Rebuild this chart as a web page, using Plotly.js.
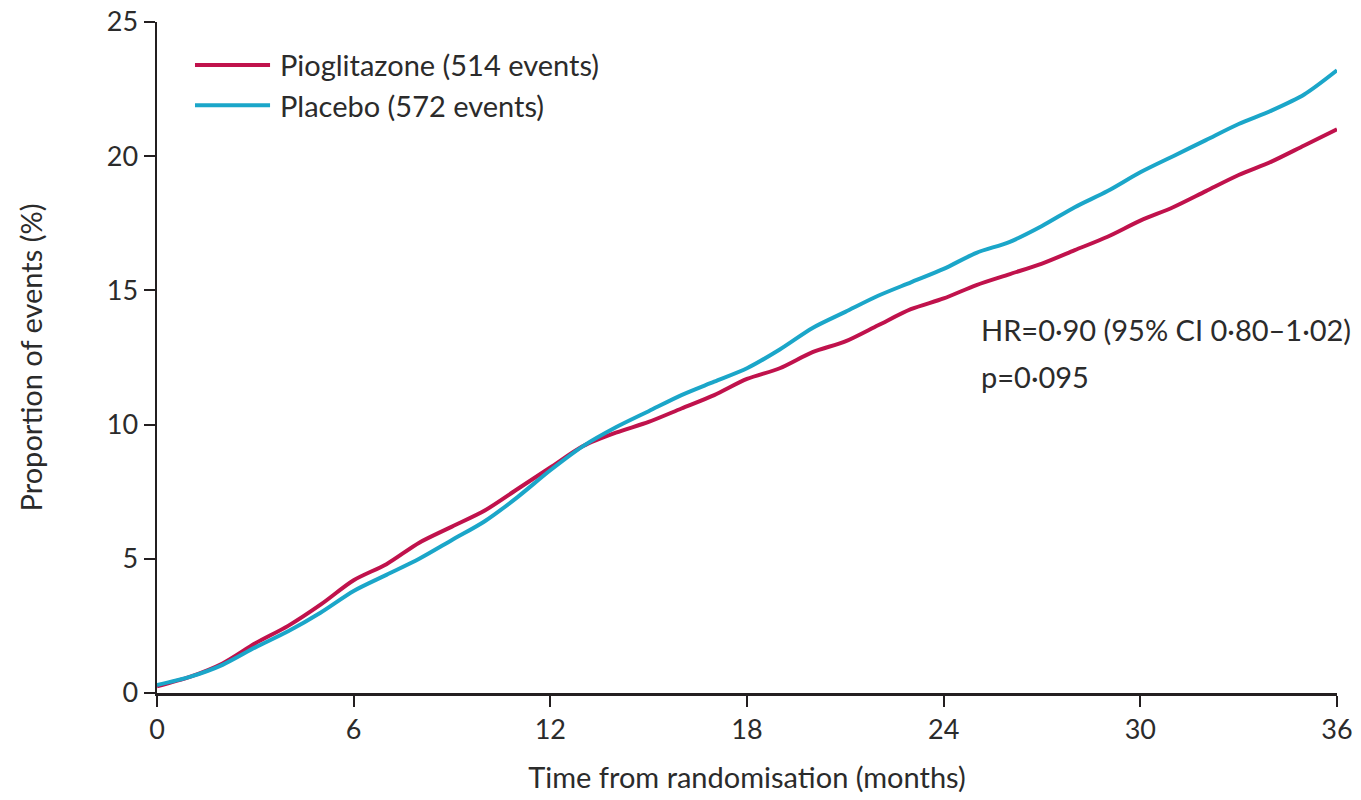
<!DOCTYPE html>
<html>
<head>
<meta charset="utf-8">
<script src="https://cdn.plot.ly/plotly-3.0.1.min.js"></script>
<style>html,body{margin:0;padding:0;background:#fff;}#chart{width:1361px;height:800px;}</style>
</head>
<body>
<div id="chart"></div>
<script>
const months = [0,1,2,3,4,5,6,7,8,9,10,11,12,13,14,15,16,17,18,19,20,21,22,23,24,25,26,27,28,29,30,31,32,33,34,35,36];
const pioglitazone = [0.25,0.6,1.1,1.85,2.5,3.3,4.2,4.8,5.6,6.2,6.8,7.6,8.4,9.2,9.7,10.1,10.6,11.1,11.7,12.1,12.7,13.1,13.7,14.3,14.7,15.2,15.6,16.0,16.5,17.0,17.6,18.1,18.7,19.3,19.8,20.4,21.0];
const placebo = [0.3,0.6,1.05,1.7,2.3,3.0,3.8,4.4,5.0,5.7,6.4,7.3,8.3,9.2,9.9,10.5,11.1,11.6,12.1,12.8,13.6,14.2,14.8,15.3,15.8,16.4,16.8,17.4,18.1,18.7,19.4,20.0,20.6,21.2,21.7,22.3,23.2];
const seriesNames = ["Pioglitazone (514 events)", "Placebo (572 events)"];
const seriesColors = ["#c0124c", "#1ba6c9"];
const xTicks = [0,6,12,18,24,30,36];
const yTicks = [0,5,10,15,20,25];
const statLines = ["HR=0·90 (95% CI 0·80–1·02)", "p=0·095"];

const FONT = "Lato, 'Open Sans', sans-serif";
const TXT = "#2b2b2b";
const FS = 29;

const traces = [
  {x: months, y: pioglitazone, name: seriesNames[0], mode: "lines",
   line: {color: seriesColors[0], width: 4, shape: "spline", smoothing: 0.8}},
  {x: months, y: placebo, name: seriesNames[1], mode: "lines",
   line: {color: seriesColors[1], width: 4, shape: "spline", smoothing: 0.8}}
];

// custom legend (long line samples as in the original)
const legX0 = 0.0322, legX1 = 0.0958, legTextX = 0.1025;
const legY = [0.936, 0.876];
const shapes = seriesNames.map((n, i) => ({
  type: "line", xref: "paper", yref: "paper",
  x0: legX0, x1: legX1, y0: legY[i], y1: legY[i],
  line: {color: seriesColors[i], width: 4}
}));
const annotations = seriesNames.map((n, i) => ({
  xref: "paper", yref: "paper", x: legTextX, y: legY[i], xanchor: "left", yanchor: "middle",
  text: n, showarrow: false, font: {family: FONT, size: FS, color: TXT}
}));
const statY = [0.541, 0.471];
statLines.forEach((t, i) => annotations.push({
  xref: "paper", yref: "paper", x: 0.697, y: statY[i], xanchor: "left", yanchor: "middle",
  text: t, showarrow: false, font: {family: FONT, size: FS, color: TXT}
}));

const layout = {
  width: 1361, height: 800,
  margin: {l: 157, r: 24, t: 22, b: 107},
  paper_bgcolor: "#fff", plot_bgcolor: "#fff",
  font: {family: FONT, size: FS, color: TXT},
  showlegend: false,
  xaxis: {range: [0, 36], tickvals: xTicks, ticks: "outside", ticklen: 11, tickwidth: 2,
          tickcolor: "#231f20", showline: true, linecolor: "#231f20", linewidth: 2.5,
          showgrid: false, zeroline: false, fixedrange: true,
          tickfont: {family: FONT, size: 27, color: TXT},
          title: {text: "Time from randomisation (months)", standoff: 24,
                  font: {family: FONT, size: FS, color: TXT}}},
  yaxis: {range: [0, 25], tickvals: yTicks, ticks: "outside", ticklen: 11, tickwidth: 2,
          tickcolor: "#231f20", showline: true, linecolor: "#231f20", linewidth: 2.5,
          showgrid: false, zeroline: false, fixedrange: true,
          tickfont: {family: FONT, size: 27, color: TXT},
          title: {text: "Proportion of events (%)", standoff: 56,
                  font: {family: FONT, size: FS, color: TXT}}},
  shapes: shapes,
  annotations: annotations
};

Plotly.newPlot("chart", traces, layout, {displayModeBar: false, staticPlot: true});
</script>
</body>
</html>
